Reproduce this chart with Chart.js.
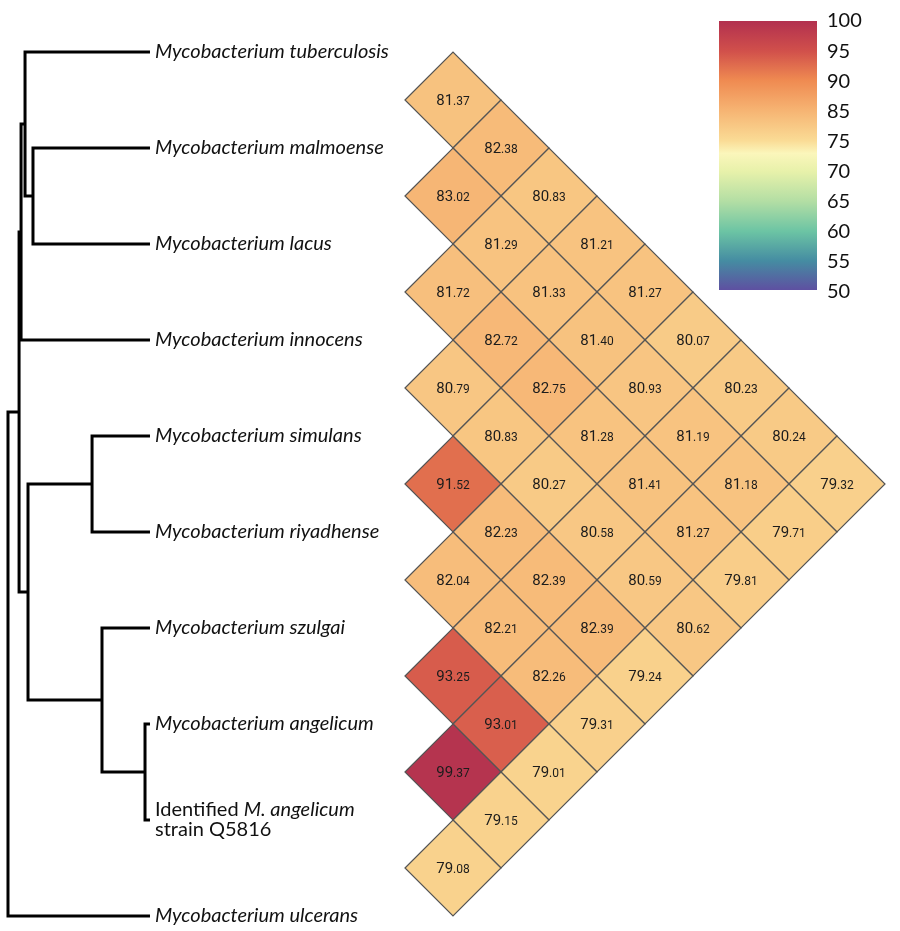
<!DOCTYPE html>
<html>
<head>
<meta charset="utf-8">
<script src="https://cdn.jsdelivr.net/npm/chart.js@4.4.1/dist/chart.umd.min.js"></script>
<style>
    body { margin: 0; background: #ffffff; }
    #chart { display: block; }
</style>
</head>
<body>
<canvas id="chart" width="900" height="931"></canvas>
<script>
// leaf order, top to bottom; *...* is set in italics
let taxa = ["*Mycobacterium tuberculosis*", "*Mycobacterium malmoense*", "*Mycobacterium lacus*",
    "*Mycobacterium innocens*", "*Mycobacterium simulans*", "*Mycobacterium riyadhense*",
    "*Mycobacterium szulgai*", "*Mycobacterium angelicum*", "Identified *M. angelicum*\nstrain Q5816",
    "*Mycobacterium ulcerans*"];

// pairwise identity (%), row i = taxon i against taxa i+1 .. 9
let identity = [
    [81.37, 82.38, 80.83, 81.21, 81.27, 80.07, 80.23, 80.24, 79.32],
    [83.02, 81.29, 81.33, 81.40, 80.93, 81.19, 81.18, 79.71],
    [81.72, 82.72, 82.75, 81.28, 81.41, 81.27, 79.81],
    [80.79, 80.83, 80.27, 80.58, 80.59, 80.62],
    [91.52, 82.23, 82.39, 82.39, 79.24],
    [82.04, 82.21, 82.26, 79.31],
    [93.25, 93.01, 79.01],
    [99.37, 79.15],
    [79.08]
];

// dendrogram merges: children are leaf indexes or "n<k>" for an earlier merge
let treeChildren = [[1, 2], [0, "n0"], ["n1", 3], [4, 5], [7, 8], [6, "n4"], ["n3", "n5"], ["n2", "n6"], ["n7", 9]];
let treeHeights = [0.824, 0.880, 0.908, 0.408, 0.035, 0.338, 0.859, 0.922, 1.0];

let scaleTicks = ["100", "95", "90", "85", "75", "70", "65", "60", "55", "50"];

// colour ramp (value -> colour), same one used by the colour bar
let rampValues = [50, 55.4, 60.9, 66.5, 72, 75.4, 77.8, 83.5, 89, 94.4, 100];
let rampColors = ["#5e50a1", "#458ca2", "#6cc4a4", "#b3dea4", "#e7f1aa", "#fbf6bb", "#fadb95",
    "#f6b372", "#ef8a51", "#d1504b", "#b2304f"];

function hexRgb(h) {
    return [parseInt(h.slice(1, 3), 16), parseInt(h.slice(3, 5), 16), parseInt(h.slice(5, 7), 16)];
}

function rampColor(v) {
    if (v <= rampValues[0]) return rampColors[0];
    for (let k = 1; k < rampValues.length; k++) {
        if (v <= rampValues[k]) {
            let t = (v - rampValues[k - 1]) / (rampValues[k] - rampValues[k - 1]);
            let a = hexRgb(rampColors[k - 1]), b = hexRgb(rampColors[k]);
            let c = a.map((x, n) => Math.round(x + (b[n] - x) * t));
            return "rgb(" + c.join(",") + ")";
        }
    }
    return rampColors[rampColors.length - 1];
}

// heat cells: x = distance between the two leaves, y = midpoint of the two leaves
let cells = [];
identity.forEach((row, i) => {
    row.forEach((v, k) => {
        let j = i + k + 1;
        cells.push({ x: j - i, y: (i + j) / 2, v: v });
    });
});

// dendrogram elbows
let nodeY = [];
function childPos(c) {
    if (typeof c === "number") return { h: 0, y: c };
    let n = parseInt(c.slice(1));
    return { h: treeHeights[n], y: nodeY[n] };
}
let treeSets = [];
treeChildren.forEach((ch, n) => {
    let a = childPos(ch[0]), b = childPos(ch[ch.length - 1]);
    let h = treeHeights[n];
    nodeY[n] = (a.y + b.y) / 2;
    treeSets.push({
        type: "scatter",
        showLine: true,
        xAxisID: "xt",
        yAxisID: "y",
        data: [{ x: a.h, y: a.y }, { x: h, y: a.y }, { x: h, y: b.y }, { x: b.h, y: b.y }],
        borderColor: "#000000",
        borderWidth: 3,
        pointRadius: 0,
        borderJoinStyle: "miter",
        borderCapStyle: "butt",
        tension: 0
    });
});

let cellLabels = {
    id: "cellLabels",
    afterDatasetsDraw(chart) {
        let ctx = chart.ctx;
        let meta = chart.getDatasetMeta(0);
        ctx.save();
        ctx.fillStyle = "#1c1c1c";
        ctx.textBaseline = "alphabetic";
        meta.data.forEach((pt, n) => {
            let v = cells[n].v.toFixed(2);
            let whole = v.split(".")[0], frac = "." + v.split(".")[1];
            ctx.font = "15px Roboto";
            let w1 = ctx.measureText(whole).width;
            ctx.font = "12px Roboto";
            let w2 = ctx.measureText(frac).width;
            let x = pt.x - (w1 + w2) / 2;
            ctx.font = "15px Roboto";
            ctx.fillText(whole, x, pt.y + 5);
            ctx.font = "12px Roboto";
            ctx.fillText(frac, x + w1, pt.y + 5);
        });
        ctx.restore();
    }
};

let treeLabels = {
    id: "treeLabels",
    afterDatasetsDraw(chart) {
        let ctx = chart.ctx;
        let x0 = chart.scales.xt.getPixelForValue(0) + 5;
        ctx.save();
        ctx.fillStyle = "#111111";
        ctx.textBaseline = "middle";
        taxa.forEach((name, i) => {
            let y = chart.scales.y.getPixelForValue(i);
            let lines = name.split("\n");
            lines.forEach((line, li) => {
                let ly = y + (li - (lines.length - 1) / 2) * 20;
                let x = x0;
                line.split("*").forEach((part, pi) => {
                    ctx.font = (pi % 2 ? "italic " : "") + "20px Lato";
                    ctx.fillText(part, x, ly);
                    x += ctx.measureText(part).width;
                });
            });
        });
        ctx.restore();
    }
};

let colorBar = {
    id: "colorBar",
    afterDraw(chart) {
        let ctx = chart.ctx;
        let left = 719, right = 817, top = 21, bottom = 290;
        let lo = rampValues[0], hi = rampValues[rampValues.length - 1];
        let g = ctx.createLinearGradient(0, top, 0, bottom);
        rampValues.forEach((v, k) => g.addColorStop((hi - v) / (hi - lo), rampColors[k]));
        ctx.save();
        ctx.fillStyle = g;
        ctx.fillRect(left, top, right - left, bottom - top);
        ctx.fillStyle = "#111111";
        ctx.font = "20px Lato";
        ctx.textBaseline = "middle";
        let step = (292 - 21) / (scaleTicks.length - 1);
        scaleTicks.forEach((t, k) => ctx.fillText(t, 827, 21 + k * step));
        ctx.restore();
    }
};

let context = document.getElementById("chart").getContext("2d");
let chart = new Chart(context, {
    type: "scatter",
    data: {
        datasets: [{
            xAxisID: "xh",
            yAxisID: "y",
            data: cells,
            pointStyle: "rectRot",
            pointRadius: c => {
                let s = c.chart.scales.y;
                return Math.abs(s.getPixelForValue(0.5) - s.getPixelForValue(0));
            },
            backgroundColor: c => rampColor(c.raw ? c.raw.v : 80),
            borderColor: "#555555",
            borderWidth: 1.2
        }].concat(treeSets)
    },
    options: {
        responsive: false,
        animation: false,
        events: [],
        layout: { padding: 0 },
        plugins: { legend: { display: false }, tooltip: { enabled: false } },
        scales: {
            y: { display: false, reverse: true, min: -0.5417, max: 9.156 },
            xh: { display: false, position: "bottom", min: -8.4375, max: 10.3125 },
            xt: { display: false, position: "bottom", reverse: true, min: -5.282, max: 1.0563 }
        }
    },
    plugins: [cellLabels, treeLabels, colorBar]
});
</script>
</body>
</html>
